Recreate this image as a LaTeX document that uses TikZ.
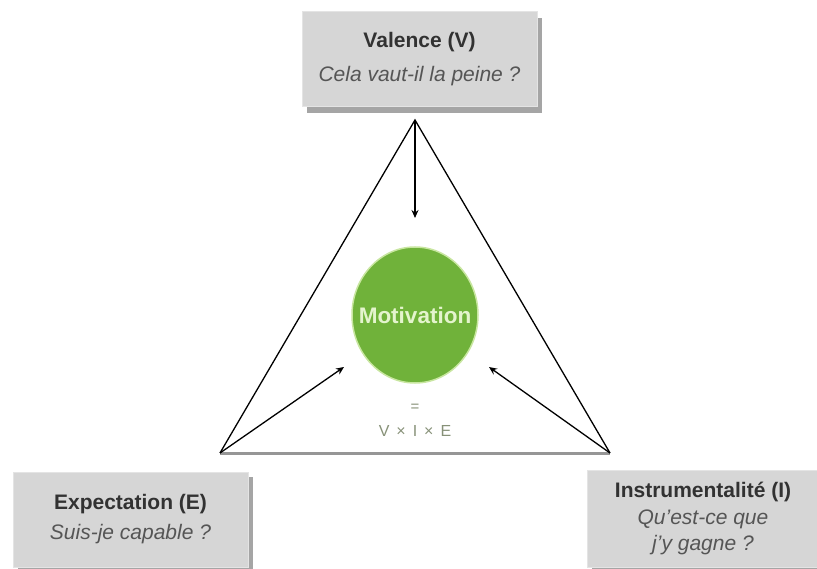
\documentclass[tikz,border=0pt]{standalone}
\usepackage{fontspec}
\setmainfont{Liberation Sans}
\usetikzlibrary{arrows.meta,shapes.geometric}
\definecolor{boxfill}{RGB}{214,214,214}
\definecolor{boxedge}{RGB}{228,228,228}
\definecolor{boxshadow}{RGB}{165,165,165}
\definecolor{titletext}{RGB}{50,50,50}
\definecolor{questtext}{RGB}{85,85,85}
\definecolor{motgreen}{RGB}{112,178,58}
\definecolor{motglow}{RGB}{200,230,160}
\definecolor{mottext}{RGB}{228,244,205}
\definecolor{formtext}{RGB}{135,145,120}
\definecolor{basegrey}{RGB}{150,150,150}
\newcommand{\ttlx}[1]{{\bfseries\color{titletext}#1}}
\newcommand{\qstx}[1]{{\itshape\color{questtext}#1}}
\tikzset{
  qbox/.style={fill=boxfill, draw=boxedge, line width=1pt, align=center, inner sep=0pt},
  side/.style={draw=black, line width=1.3pt},
  arr/.style={draw=black, line width=1.3pt, -{Stealth[length=8pt,width=7pt]}}
}
\begin{document}
\begin{tikzpicture}[x=1pt,y=-1pt]
\useasboundingbox (0,0) rectangle (817,569);
% shadows
\fill[boxshadow] (307,18) rectangle (542,113);
\fill[boxshadow] (18,477) rectangle (253,572);
\fill[boxshadow] (592,475) rectangle (822,572);
% boxes
\node[qbox, minimum width=235pt, minimum height=95pt, font=\fontsize{21}{34}\selectfont] (V) at (419.5,59.5)
  {\ttlx{Valence (V)}\\\qstx{Cela vaut-il la peine ?}};
\node[qbox, minimum width=235pt, minimum height=95pt, font=\fontsize{21}{30}\selectfont] (E) at (130.5,519.5)
  {\ttlx{Expectation (E)}\\\qstx{Suis-je capable ?}};
\node[qbox, minimum width=232pt, minimum height=97pt, font=\fontsize{21}{26.5}\selectfont] (I) at (703,518.5)
  {\ttlx{Instrumentalité (I)}\\\qstx{Qu'est-ce que}\\\qstx{j'y gagne ?}};
% vertices
\coordinate (A) at (415,120);
\coordinate (BL) at (220,453);
\coordinate (BR) at (610,453);
% circle
\node[ellipse, fill=motgreen, draw=motglow, line width=1.5pt, minimum width=126pt, minimum height=136pt, inner sep=0pt] (M) at (415,315) {};
\node[font=\fontsize{22.5}{26}\selectfont\bfseries, text=mottext] (Mt) at (M.center) {Motivation};
\node[font=\fontsize{15}{18}\selectfont, text=formtext] (eq) at (415,408) {=};
\node[font=\fontsize{16}{18}\selectfont, text=formtext] (f) at (415,431) {V\hspace{7pt}×\hspace{7pt}I\hspace{7pt}×\hspace{7pt}E};
% triangle
\draw[basegrey, line width=3pt] (BL) -- (BR);
\draw[side, line join=miter] (BL) -- (A) -- (BR);
% arrows
\coordinate (tV) at (415,218);
\coordinate (tE) at (344,367);
\coordinate (tI) at (489,367);
\draw[arr] (A) -- (tV);
\draw[arr] (BL) -- (tE);
\draw[arr] (BR) -- (tI);
\end{tikzpicture}
\end{document}
